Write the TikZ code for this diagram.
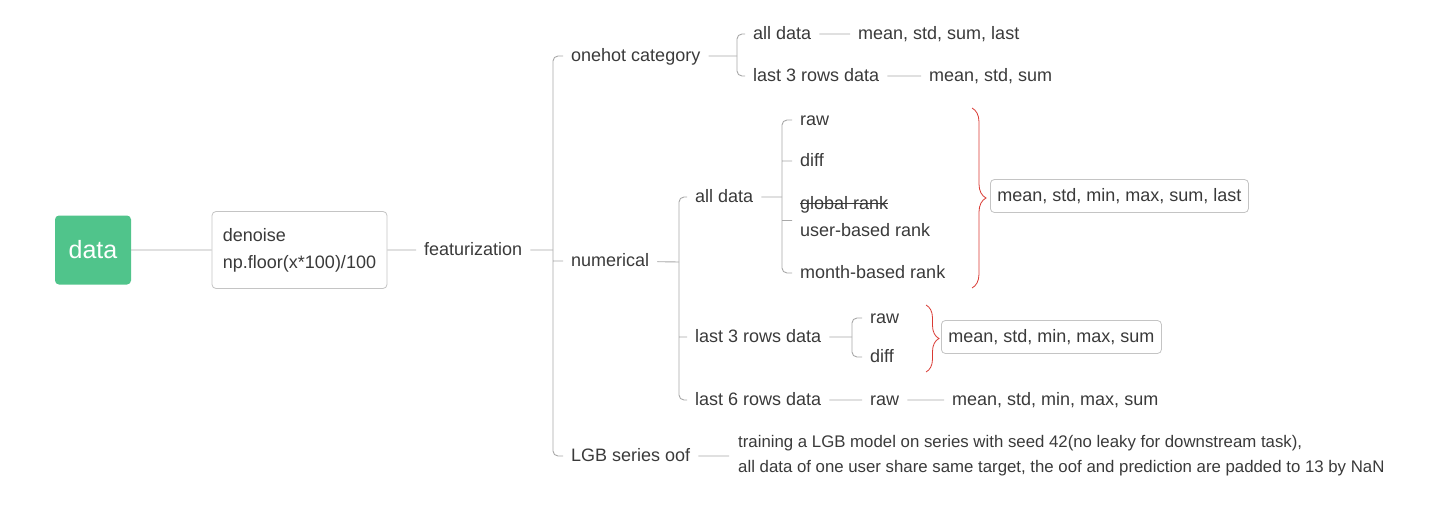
\documentclass[tikz,border=0pt]{standalone}
\usepackage{fontspec}
\setmainfont{Liberation Sans}
\usetikzlibrary{decorations.pathreplacing}
\definecolor{mindgreen}{HTML}{50C48B}
\definecolor{inkgray}{HTML}{3A3A3A}
\definecolor{linegray}{HTML}{A8A8A8}
\definecolor{boxgray}{HTML}{C4C4C4}
\definecolor{bracered}{HTML}{D93A34}
\newlength\strikelen
\newcommand\strikeword[1]{\settowidth\strikelen{#1}%
  \rlap{\rule[0.3em]{\strikelen}{0.06em}}#1}

\begin{document}
\begin{tikzpicture}[x=1pt,y=-1pt,
      every node/.style={text=inkgray,font=\fontsize{18}{27}\selectfont},
      root node/.style={rectangle,rounded corners=4pt,fill=mindgreen,
      text=white,font=\fontsize{25}{30}\selectfont,
      minimum width=76pt,minimum height=69pt},
      box node/.style={rectangle,rounded corners=4pt,draw=boxgray,
      line width=0.8pt,fill=white},
      item node/.style={anchor=west,inner xsep=8pt,inner ysep=2pt,
      execute at begin node=\strut},
      branch/.style={draw=linegray,line width=0.9pt,rounded corners=5pt},
      group brace/.style={draw=bracered,line width=0.8pt,decorate,
      decoration={brace,amplitude=14pt}}]

      \useasboundingbox (0,0) rectangle (1441,514);

      %% THESE ARE THE NODES.  ONE COLUMN AFTER THE OTHER
      \node[root node] (data) at (93,250) {data};
      \node[box node,minimum width=175pt,minimum height=77pt,
            align=left] (denoise) at (299.5,250)
            {denoise\\np.floor(x*100)/100};
      \node[item node] (feat) at (416,250) {featurization};

      \node[item node] (onehot) at (563,56) {onehot category};
      \node[item node] (numerical) at (563,261) {numerical};
      \node[item node] (lgb) at (563,456) {LGB series oof};

      \node[item node] (ohall) at (745,34) {all data};
      \node[item node] (ohlast) at (745,76) {last 3 rows data};
      \node[item node] (ohallstat) at (850,34) {mean, std, sum, last};
      \node[item node] (ohlaststat) at (921,76) {mean, std, sum};

      \node[item node] (numall) at (687,197) {all data};
      \node[item node] (numlast) at (687,337) {last 3 rows data};
      \node[item node] (numsix) at (687,400) {last 6 rows data};

      \node[item node] (raw) at (792,120) {raw};
      \node[item node] (diff) at (792,161) {diff};
      \node[item node,align=left] (rank) at (792,220.5)
            {\strikeword{global rank}\\user-based rank};
      \node[item node] (month) at (792,273) {month-based rank};
      \node[box node,anchor=west,minimum height=33pt,inner xsep=7pt]
            (allstat) at (990,196) {mean, std, min, max, sum, last};

      \node[item node] (lastraw) at (862,318) {raw};
      \node[item node] (lastdiff) at (862,357) {diff};
      \node[box node,anchor=west,minimum height=33pt,inner xsep=7pt]
            (laststat) at (941,337) {mean, std, min, max, sum};

      \node[item node] (sixraw) at (862,400) {raw};
      \node[item node] (sixstat) at (944,400) {mean, std, min, max, sum};

      \node[item node,align=left,inner xsep=9pt,
            font=\fontsize{16.8}{25}\selectfont] (lgbnote) at (729,457.5)
            {training a LGB model on series with seed 42(no leaky for downstream task),\\
             all data of one user share same target, the oof and prediction are padded to 13 by NaN};

      %% THESE ARE THE BRACKETS
      \coordinate (bfeat) at (553,250);
      \coordinate (bhot) at (737,56);
      \coordinate (bnum) at (679,262);
      \coordinate (ball) at (782,197);
      \coordinate (blast) at (852,337);

      %% THESE ARE THE CONNECTORS
      \path[branch] (data) -- (denoise)
            (denoise) -- (feat)
            (feat) -- (bfeat)
            (onehot) -- (bhot)
            (ohall) -- (ohallstat)
            (ohlast) -- (ohlaststat)
            (numerical) -- (bnum)
            (numall) -- (ball)
            (numlast) -- (blast)
            (numsix) -- (sixraw)
            (sixraw) -- (sixstat)
            (lgb) -- (lgbnote.west |- lgb);
      \path[branch] (onehot.west) -| (bfeat) |- (lgb.west)
            (bfeat |- numerical.west) -- (numerical.west);
      \path[branch] (ohall.west) -| (bhot) |- (ohlast.west);
      \path[branch] (numall.west) -| (bnum) |- (numsix.west)
            (bnum |- numlast.west) -- (numlast.west);
      \path[branch] (raw.west) -| (ball) |- (month.west)
            (ball |- diff.west) -- (diff.west)
            (ball |- rank.west) -- (rank.west);
      \path[branch] (lastraw.west) -| (blast) |- (lastdiff.west);

      %% THESE ARE THE RED BRACES
      \draw[group brace] (972,108) -- (972,288);
      \draw[group brace,decoration={amplitude=13pt}] (926,305) -- (926,372);
    \end{tikzpicture}
\end{document}
